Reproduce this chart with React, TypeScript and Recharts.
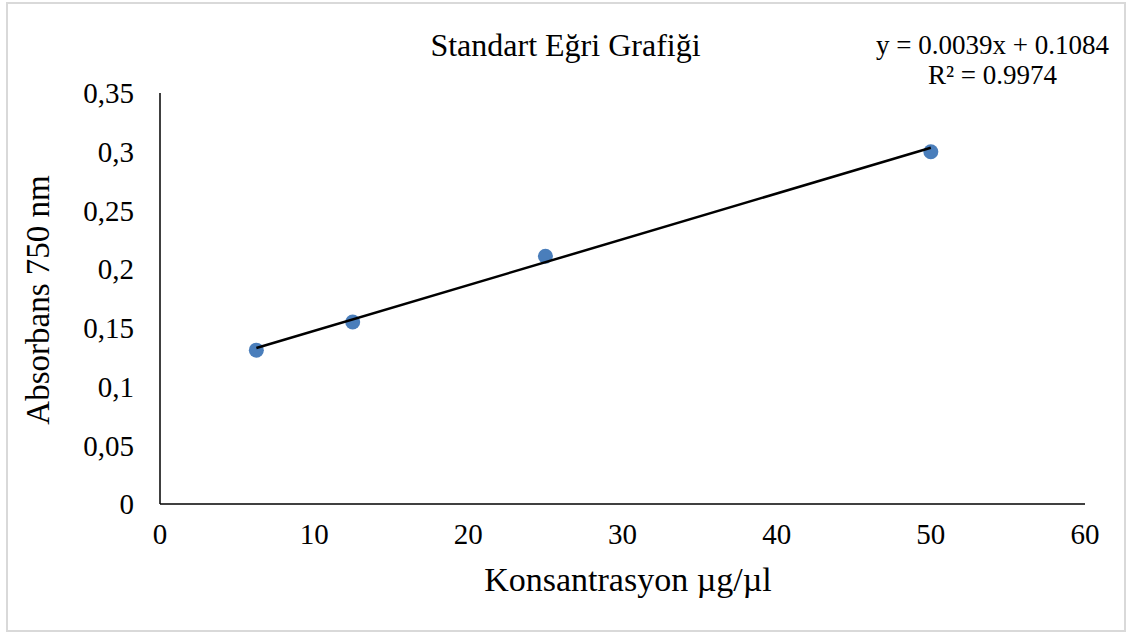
import React from 'react';
import { ScatterChart, Scatter, XAxis, YAxis } from 'recharts';

const concentrations = [6.25, 12.5, 25, 50];
const absorbance = [0.131, 0.155, 0.211, 0.3];
const trendX = [6.25, 50];
const trendY = [0.1328, 0.3034];
const xTicks = [0, 10, 20, 30, 40, 50, 60];
const yTicks = [0, 0.05, 0.1, 0.15, 0.2, 0.25, 0.3, 0.35];

const points = concentrations.map((x, i) => ({ x, y: absorbance[i] }));
const trend = trendX.map((x, i) => ({ x, y: trendY[i] }));

const FONT = '"Liberation Serif", "Times New Roman", serif';

const fmtY = (v: number) => String(v).replace('.', ',');

export default function App() {
  return (
    <div style={{ position: 'fixed', left: 0, top: 0, width: 1131, height: 635, background: '#fff', fontFamily: FONT }}>
      <div style={{ position: 'absolute', left: 6, top: 2, width: 1120, height: 630, border: '2px solid #d9d9d9', boxSizing: 'border-box' }} />
      <ScatterChart width={1131} height={635} margin={{ top: 93, right: 46, bottom: 101, left: 100 }}>
        <XAxis
          type="number"
          dataKey="x"
          domain={[0, 60]}
          ticks={xTicks}
          tickLine={false}
          axisLine={{ stroke: '#000', strokeWidth: 1.5 }}
          tick={{ fill: '#000', fontSize: 29, fontFamily: FONT }}
          tickMargin={13}
          height={30}
          allowDataOverflow
        />
        <YAxis
          type="number"
          dataKey="y"
          domain={[0, 0.35]}
          ticks={yTicks}
          tickFormatter={fmtY}
          tickLine={false}
          axisLine={{ stroke: '#000', strokeWidth: 1.5 }}
          tick={{ fill: '#000', fontSize: 29, fontFamily: FONT }}
          tickMargin={20}
          width={60}
          allowDataOverflow
        />
        <Scatter data={points} fill="#4a7ebb" isAnimationActive={false} shape={(p: any) => <circle cx={p.cx} cy={p.cy} r={7.5} fill="#4a7ebb" />} />
        <Scatter data={trend} line={{ stroke: '#000', strokeWidth: 2.5 }} isAnimationActive={false} shape={() => <g />} />
      </ScatterChart>
      <div style={{ position: 'absolute', left: 0, width: 1131, top: 26, textAlign: 'center', fontSize: 32, lineHeight: '38px', color: '#000' }}>
        Standart Eğri Grafiği
      </div>
      <div style={{ position: 'absolute', left: 862, width: 261, top: 30, textAlign: 'center', fontSize: 27, lineHeight: '30px', color: '#000' }}>
        y = 0.0039x + 0.1084<br />R² = 0.9974
      </div>
      <div style={{ position: 'absolute', left: 328, width: 600, top: 560, textAlign: 'center', fontSize: 34, lineHeight: '40px', color: '#000' }}>
        Konsantrasyon µg/µl
      </div>
      <div style={{ position: 'absolute', left: 38 - 200, top: 300 - 20, width: 400, height: 40, textAlign: 'center', fontSize: 33, lineHeight: '40px', color: '#000', transform: 'rotate(-90deg)' }}>
        Absorbans 750 nm
      </div>
    </div>
  );
}
